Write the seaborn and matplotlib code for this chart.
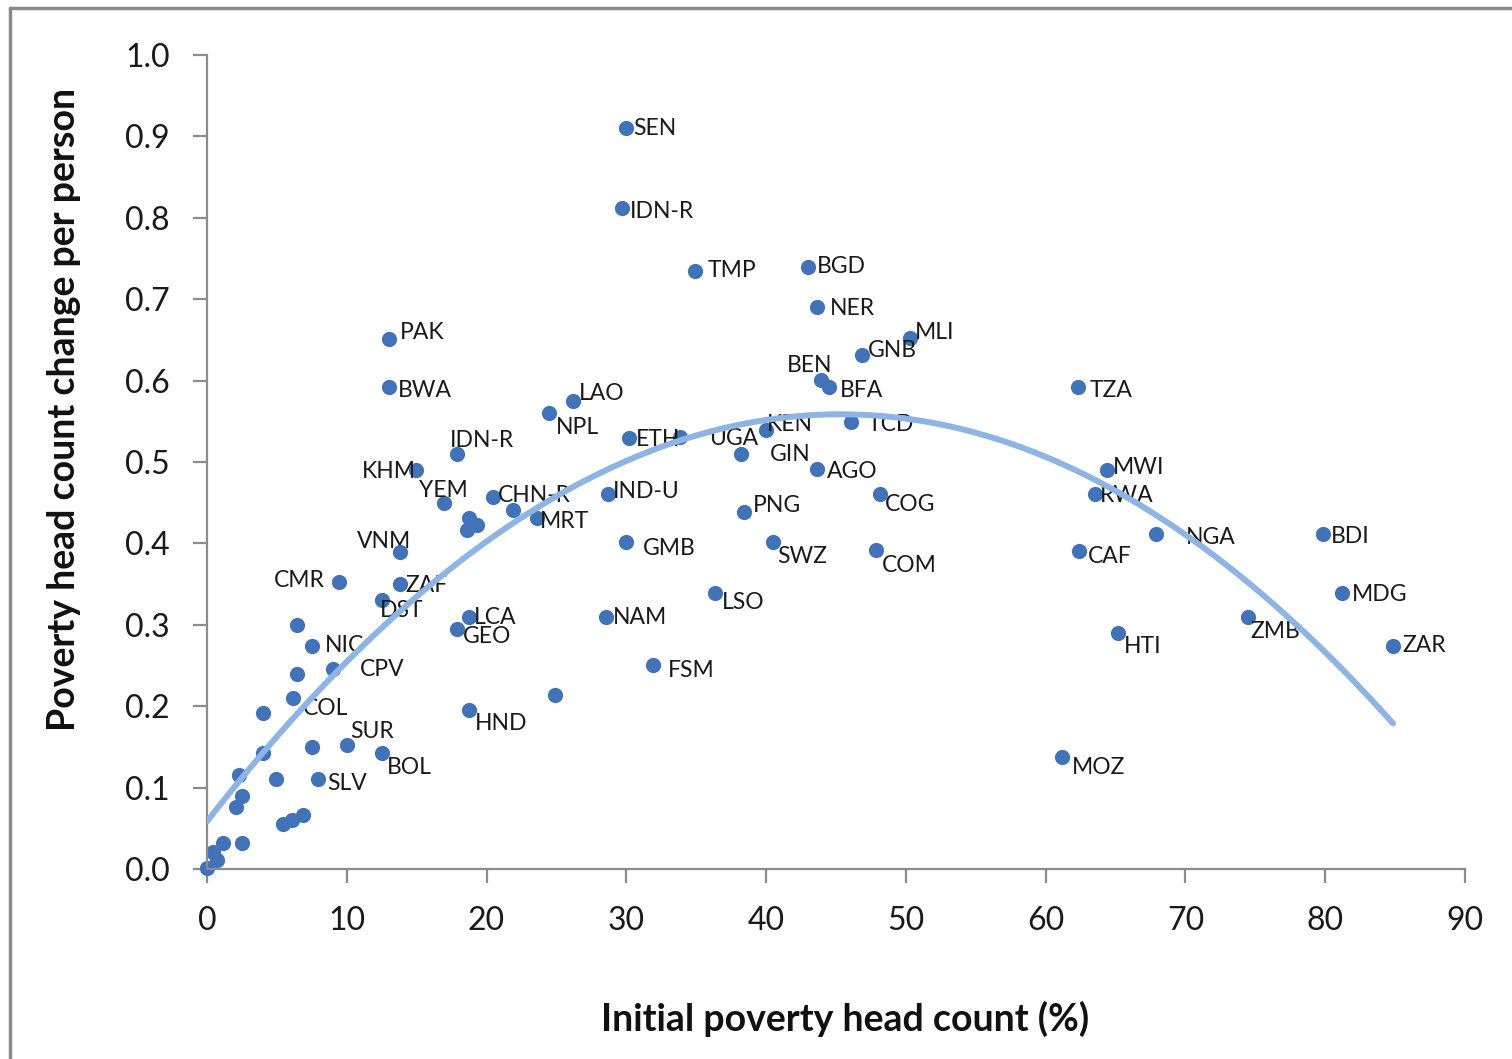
import numpy as np
import pandas as pd
import matplotlib
matplotlib.use("Agg")
import matplotlib.pyplot as plt
from matplotlib.lines import Line2D
import seaborn as sns

# Datos
paises = ["SEN", "IDN-R", "TMP", "BGD", "NER", "MLI", "GNB", "PAK", "BWA", "BEN",
          "BFA", "TZA", "LAO", "NPL", "IDN-R", "KHM", "YEM", "CHN-R", "", "MRT",
          "", "", "", "VNM", "ZAF", "DST", "CMR", "NIC", "CPV", "COL",
          "SUR", "BOL", "SLV", "LCA", "GEO", "HND", "ETH", "UGA", "KEN", "GIN",
          "TCD", "AGO", "COG", "COM", "IND-U", "PNG", "GMB", "SWZ", "NAM", "LSO",
          "FSM", "", "MWI", "RWA", "NGA", "CAF", "BDI", "MDG", "ZMB", "HTI",
          "ZAR", "MOZ", "", "", "", "", "", "", "", "",
          "", "", "", "", "", "", "", "", ""]
pobreza_inicial = [29.98, 29.69, 34.91, 43.00, 43.64, 50.29, 46.86, 13.02, 13.02, 43.93,
                   44.50, 62.31, 26.18, 24.47, 17.89, 14.95, 16.96, 20.46, 21.89, 23.61,
                   18.74, 18.60, 19.32, 13.81, 13.81, 12.52, 9.44, 7.51, 9.01, 6.15,
                   10.02, 12.52, 7.94, 18.74, 17.89, 18.74, 30.19, 33.84, 39.99, 38.20,
                   46.07, 43.64, 48.15, 47.86, 28.69, 38.42, 29.98, 40.49, 28.55, 36.34,
                   31.91, 24.90, 64.39, 63.53, 67.89, 62.38, 79.84, 81.20, 74.47, 65.17,
                   84.85, 61.17, 6.44, 6.44, 4.01, 7.51, 4.94, 4.01, 2.29, 2.50,
                   2.07, 5.44, 6.08, 6.87, 1.14, 2.50, 0.43, 0.72, 0.00]
cambio_pobreza = [0.910, 0.812, 0.735, 0.740, 0.690, 0.652, 0.631, 0.651, 0.592, 0.601,
                  0.592, 0.592, 0.575, 0.560, 0.510, 0.490, 0.450, 0.457, 0.441, 0.431,
                  0.431, 0.416, 0.423, 0.389, 0.350, 0.330, 0.353, 0.274, 0.246, 0.210,
                  0.152, 0.143, 0.111, 0.310, 0.295, 0.195, 0.529, 0.531, 0.539, 0.510,
                  0.549, 0.491, 0.461, 0.392, 0.461, 0.439, 0.402, 0.402, 0.310, 0.339,
                  0.251, 0.214, 0.490, 0.461, 0.412, 0.391, 0.412, 0.339, 0.310, 0.290,
                  0.274, 0.138, 0.300, 0.240, 0.192, 0.150, 0.111, 0.143, 0.115, 0.090,
                  0.076, 0.055, 0.060, 0.066, 0.032, 0.032, 0.021, 0.011, 0.001]

# Desplazamiento de las etiquetas (pixeles: derecha, abajo)
desplazamientos = [(7, 0), (8, 3), (13, 0), (9, 0), (13, 1), (5, -6), (6, -5), (11, -7), (9, 3), (-34, -14),
                   (11, 3), (12, 3), (6, -7), (7, 14), (-7, -13), (-54, 1), (-25, -12), (5, -2), (0, 0), (3, 3),
                   (0, 0), (0, 0), (0, 0), (-43, -11), (5, 1), (-2, 10), (-65, -1), (13, 0), (27, 1), (10, 10),
                   (3, -14), (5, 15), (9, 5), (5, 1), (6, 8), (6, 13), (7, 1), (29, 2), (1, -6), (29, 1),
                   (17, 2), (10, 2), (5, 11), (6, 16), (5, -2), (9, -6), (17, 7), (4, 15), (7, 1), (7, 9),
                   (15, 6), (0, 0), (6, -3), (5, 2), (30, 4), (9, 6), (8, 3), (10, 1), (3, 15), (6, 14),
                   (9, 0), (10, 11)] + [(0, 0)] * 17

df = pd.DataFrame({"x": pobreza_inicial, "y": cambio_pobreza, "pais": paises})

sns.set_style("white")
plt.rcParams["font.family"] = ["Lato", "DejaVu Sans"]

fig = plt.figure(figsize=(15.12, 10.59), dpi=100)
ax = fig.add_axes([207 / 1512, 1 - 869 / 1059, 1258 / 1512, 814 / 1059])

color_puntos = "#4273B9"
color_tendencia = "#8DB4E2"

sns.scatterplot(data=df, x="x", y="y", ax=ax, color=color_puntos, s=120,
                linewidth=0, zorder=2)
ax.collections[0].set_clip_on(False)

# Línea de tendencia polinómica (orden 2)
sns.regplot(data=df, x="x", y="y", ax=ax, order=2, ci=None, scatter=False,
            truncate=True, line_kws={"color": color_tendencia, "lw": 4.3, "zorder": 4})

for pais, xv, yv, (dx, dy) in zip(paises, pobreza_inicial, cambio_pobreza, desplazamientos):
    if pais:
        ax.annotate(pais, (xv, yv), xytext=(dx, -dy), textcoords="offset pixels",
                    ha="left", va="center", fontsize=16.5, color="#1a1a1a", zorder=3)

ax.set_xlim(0, 90)
ax.set_ylim(0, 1.0)
ax.set_xticks(np.arange(0, 91, 10))
ax.set_yticks(np.arange(0, 1.01, 0.1))
ax.set_yticklabels([f"{v:.1f}" for v in np.arange(0, 1.01, 0.1)])

for lado in ["top", "right"]:
    ax.spines[lado].set_visible(False)
for lado in ["left", "bottom"]:
    ax.spines[lado].set_color("#8c8c8c")
    ax.spines[lado].set_linewidth(1.6)

ax.tick_params(axis="both", which="major", direction="out", length=10, width=1.6,
               color="#8c8c8c", labelsize=23, labelcolor="#1a1a1a")
ax.tick_params(axis="y", pad=17)
ax.tick_params(axis="x", pad=17)
ax.tick_params(left=True, bottom=True)

ax.set_xlabel("Initial poverty head count (%)", fontsize=27, fontweight="bold", color="#111111")
ax.set_ylabel("Poverty head count change per person", fontsize=27, fontweight="bold", color="#111111")
ax.xaxis.set_label_coords(0.507, -0.162)
ax.yaxis.set_label_coords(-0.100, 0.564)

# Marco de la imagen
fig.add_artist(Line2D([10 / 1512, 10 / 1512], [0, 1 - 8 / 1059], transform=fig.transFigure,
                      color="#8a8a8a", lw=2.5))
fig.add_artist(Line2D([10 / 1512, 1], [1 - 8 / 1059, 1 - 8 / 1059], transform=fig.transFigure,
                      color="#8a8a8a", lw=2.5))

fig.savefig("out.png", dpi=100)
